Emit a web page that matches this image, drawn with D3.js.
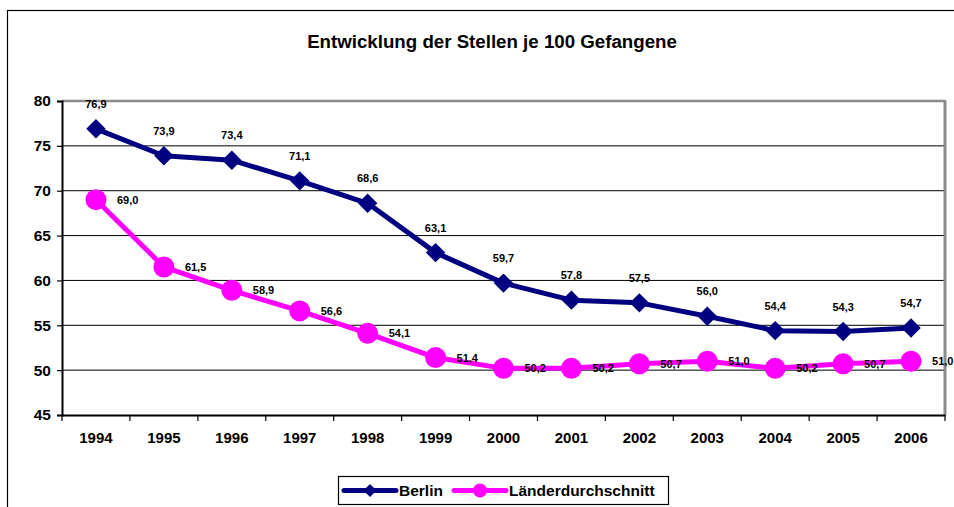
<!DOCTYPE html>
<html>
<head>
<meta charset="utf-8">
<script src="https://cdn.jsdelivr.net/npm/d3@7"></script>
<style>
  body { margin: 0; background: #fff; }
  svg { font-family: "Liberation Sans", Arial, sans-serif; display: block; }
</style>
</head>
<body>
<svg id="chart" width="954" height="507"></svg>
<script>
const years = ["1994", "1995", "1996", "1997", "1998", "1999", "2000", "2001", "2002", "2003", "2004", "2005", "2006"];
const berlin = [76.9, 73.9, 73.4, 71.1, 68.6, 63.1, 59.7, 57.8, 57.5, 56.0, 54.4, 54.3, 54.7];
const laender = [69.0, 61.5, 58.9, 56.6, 54.1, 51.4, 50.2, 50.2, 50.7, 51.0, 50.2, 50.7, 51.0];
const yTicks = [45, 50, 55, 60, 65, 70, 75, 80];

const svg = d3.select("#chart");
const plot = { left: 62, right: 945, top: 101, bottom: 415 };

// outer chart border
svg.append("rect")
  .attr("x", 7.5).attr("y", 10.5)
  .attr("width", 960).attr("height", 520)
  .attr("fill", "none").attr("stroke", "#000").attr("stroke-width", 1.2);

svg.append("text")
  .attr("x", 492).attr("y", 48)
  .attr("text-anchor", "middle")
  .style("font-size", "18.7px").style("font-weight", "700")
  .text("Entwicklung der Stellen je 100 Gefangene");

const x = d3.scaleBand().domain(years).range([plot.left, plot.right]);
const y = d3.scaleLinear().domain([45, 80]).range([plot.bottom, plot.top]);

// gridlines
svg.append("g")
  .selectAll("line")
  .data(yTicks.filter(t => t > 45 && t < 80))
  .enter().append("line")
  .attr("x1", plot.left).attr("x2", plot.right)
  .attr("y1", d => y(d)).attr("y2", d => y(d))
  .attr("stroke", "#000").attr("stroke-width", 1);

// plot frame top/right in gray
svg.append("line")
  .attr("x1", plot.left).attr("x2", plot.right + 1)
  .attr("y1", plot.top).attr("y2", plot.top)
  .attr("stroke", "#8c8c8c").attr("stroke-width", 2.5);
svg.append("line")
  .attr("x1", plot.right).attr("x2", plot.right)
  .attr("y1", plot.top).attr("y2", plot.bottom)
  .attr("stroke", "#8c8c8c").attr("stroke-width", 3);

// axes
const yAxis = d3.axisLeft(y).tickValues(yTicks).tickSize(5).tickPadding(6);
const gy = svg.append("g")
  .attr("transform", `translate(${plot.left},0)`)
  .call(yAxis);
gy.select(".domain").attr("stroke", "#000").attr("stroke-width", 2);
gy.selectAll(".tick line").attr("stroke", "#000").attr("stroke-width", 1.2);
gy.selectAll("text")
  .style("font-size", "15.5px").style("font-weight", "700")
  .style("font-family", "Liberation Sans, Arial, sans-serif")
  .attr("fill", "#000");

const xAxis = d3.axisBottom(x).tickSize(0).tickPadding(17);
const gx = svg.append("g")
  .attr("transform", `translate(0,${plot.bottom})`)
  .call(xAxis);
gx.select(".domain").attr("stroke", "#000").attr("stroke-width", 2);
gx.selectAll("text")
  .style("font-size", "15px").style("font-weight", "700")
  .style("font-family", "Liberation Sans, Arial, sans-serif")
  .attr("fill", "#000");
// tick marks between categories
svg.append("g")
  .selectAll("line")
  .data(years.concat(["end"]))
  .enter().append("line")
  .attr("x1", (d, i) => plot.left + i * x.step())
  .attr("x2", (d, i) => plot.left + i * x.step())
  .attr("y1", plot.bottom).attr("y2", plot.bottom + 6)
  .attr("stroke", "#000").attr("stroke-width", 1.2);

const cx = d => x(d) + x.bandwidth() / 2;
const fmt = v => v.toFixed(1).replace(".", ",");
const line = d3.line().x((d, i) => cx(years[i])).y(d => y(d));

const berlinColor = "#000080";
const laenderColor = "#ff00ff";

// Länder series
svg.append("path")
  .datum(laender)
  .attr("d", line)
  .attr("fill", "none").attr("stroke", laenderColor)
  .attr("stroke-width", 5).attr("stroke-linejoin", "round");
svg.append("g")
  .selectAll("circle")
  .data(laender)
  .enter().append("circle")
  .attr("cx", (d, i) => cx(years[i]))
  .attr("cy", d => y(d))
  .attr("r", 10.5)
  .attr("fill", laenderColor);

// Berlin series
svg.append("path")
  .datum(berlin)
  .attr("d", line)
  .attr("fill", "none").attr("stroke", berlinColor)
  .attr("stroke-width", 5).attr("stroke-linejoin", "round");
svg.append("g")
  .selectAll("path")
  .data(berlin)
  .enter().append("path")
  .attr("d", d3.symbol().type(d3.symbolDiamond2).size(240))
  .attr("transform", (d, i) => `translate(${cx(years[i])},${y(d)})`)
  .attr("fill", berlinColor);

// data labels
svg.append("g")
  .selectAll("text")
  .data(berlin)
  .enter().append("text")
  .attr("x", (d, i) => cx(years[i]))
  .attr("y", d => y(d) - 21)
  .attr("text-anchor", "middle")
  .style("font-size", "11px").style("font-weight", "700")
  .text(d => fmt(d));

svg.append("g")
  .selectAll("text")
  .data(laender)
  .enter().append("text")
  .attr("x", (d, i) => cx(years[i]) + 21)
  .attr("y", d => y(d) + 4)
  .style("font-size", "11px").style("font-weight", "700")
  .text(d => fmt(d));

// legend
const lg = svg.append("g");
lg.append("rect")
  .attr("x", 338.5).attr("y", 476.5)
  .attr("width", 330).attr("height", 28)
  .attr("fill", "#fff").attr("stroke", "#000").attr("stroke-width", 1.2);

const legendItems = [
  { name: "Berlin", color: berlinColor, x: 344, shape: "diamond" },
  { name: "Länderdurchschnitt", color: laenderColor, x: 454, shape: "circle" }
];
legendItems.forEach(it => {
  const ly = 490.5;
  lg.append("line")
    .attr("x1", it.x).attr("x2", it.x + 52)
    .attr("y1", ly).attr("y2", ly)
    .attr("stroke", it.color).attr("stroke-width", 5).attr("stroke-linecap", "round");
  if (it.shape === "diamond") {
    lg.append("path")
      .attr("d", d3.symbol().type(d3.symbolDiamond2).size(110))
      .attr("transform", `translate(${it.x + 26},${ly})`)
      .attr("fill", it.color);
  } else {
    lg.append("circle")
      .attr("cx", it.x + 26).attr("cy", ly).attr("r", 7)
      .attr("fill", it.color);
  }
  lg.append("text")
    .attr("x", it.x + 55).attr("y", ly + 5.5)
    .style("font-size", "15.5px").style("font-weight", "700")
    .text(it.name);
});
</script>
</body>
</html>
